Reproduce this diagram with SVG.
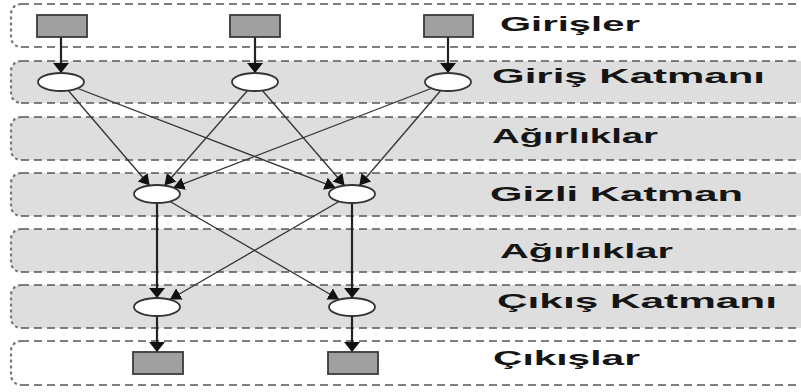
<svg xmlns="http://www.w3.org/2000/svg" width="801" height="392" viewBox="0 0 801 392">
<style>
.bg-grey{fill:#dedede;stroke:none}
.bg-white{fill:#ffffff;stroke:none}
.dash{fill:none;stroke:#555;stroke-width:1.6;stroke-dasharray:8 5}
.dot{fill:none;stroke:#777;stroke-width:2.2;stroke-dasharray:3 3}
.lbl{font-family:"Liberation Sans",Arial,sans-serif;font-weight:bold;font-size:21px;fill:#151515}
.sq{fill:#a0a0a0;stroke:#3a3a3a;stroke-width:1.8}
.nd{fill:#ffffff;stroke:#333;stroke-width:1.8}
.thick{stroke:#222;stroke-width:2.2;fill:none;marker-end:url(#ah-v)}
.thin{stroke:#333;stroke-width:1.3;fill:none;marker-end:url(#ah)}
</style>
<defs>
<marker id="ah-v" markerUnits="userSpaceOnUse" markerWidth="12" markerHeight="18" refX="10" refY="8" orient="auto">
<path d="M0,0 L10,8 L0,16 z" fill="#111"/>
</marker>
<marker id="ah" markerUnits="userSpaceOnUse" markerWidth="13" markerHeight="14" refX="11" refY="6.5" orient="auto">
<path d="M0,0 L11,6.5 L0,13 z" fill="#111"/>
</marker>
</defs>

<g id="bands">
<g id="band-girisler">
<rect class="bg-white" x="11" y="4" width="800" height="43" rx="10"/>
<path class="dash" d="M21,4 H801 M21,47 H801"/>
<path class="dot" d="M21,4 A10,10 0 0 0 11,14 V37 A10,10 0 0 0 21,47"/>
<text class="lbl" x="500" y="31" textLength="140" lengthAdjust="spacingAndGlyphs">Girişler</text>
</g>
<g id="band-giris-katmani">
<rect class="bg-grey" x="11" y="61" width="800" height="42" rx="10"/>
<path class="dash" d="M21,61 H801 M21,103 H801"/>
<path class="dot" d="M21,61 A10,10 0 0 0 11,71 V93 A10,10 0 0 0 21,103"/>
<text class="lbl" x="492" y="83" textLength="273" lengthAdjust="spacingAndGlyphs">Giriş Katmanı</text>
</g>
<g id="band-agirliklar-1">
<rect class="bg-grey" x="11" y="117" width="800" height="43" rx="10"/>
<path class="dash" d="M21,117 H801 M21,160 H801"/>
<path class="dot" d="M21,117 A10,10 0 0 0 11,127 V150 A10,10 0 0 0 21,160"/>
<text class="lbl" x="492" y="143" textLength="166" lengthAdjust="spacingAndGlyphs">Ağırlıklar</text>
</g>
<g id="band-gizli-katman">
<rect class="bg-grey" x="11" y="173" width="800" height="43" rx="10"/>
<path class="dash" d="M21,173 H801 M21,216 H801"/>
<path class="dot" d="M21,173 A10,10 0 0 0 11,183 V206 A10,10 0 0 0 21,216"/>
<text class="lbl" x="490" y="201" textLength="253" lengthAdjust="spacingAndGlyphs">Gizli Katman</text>
</g>
<g id="band-agirliklar-2">
<rect class="bg-grey" x="11" y="229" width="800" height="43" rx="10"/>
<path class="dash" d="M21,229 H801 M21,272 H801"/>
<path class="dot" d="M21,229 A10,10 0 0 0 11,239 V262 A10,10 0 0 0 21,272"/>
<text class="lbl" x="500" y="258" textLength="173" lengthAdjust="spacingAndGlyphs">Ağırlıklar</text>
</g>
<g id="band-cikis-katmani">
<rect class="bg-grey" x="11" y="285" width="800" height="43" rx="10"/>
<path class="dash" d="M21,285 H801 M21,328 H801"/>
<path class="dot" d="M21,285 A10,10 0 0 0 11,295 V318 A10,10 0 0 0 21,328"/>
<text class="lbl" x="497" y="308" textLength="280" lengthAdjust="spacingAndGlyphs">Çıkış Katmanı</text>
</g>
<g id="band-cikislar">
<rect class="bg-white" x="11" y="341" width="800" height="44" rx="10"/>
<path class="dash" d="M21,341 H801 M21,385 H801"/>
<path class="dot" d="M21,341 A10,10 0 0 0 11,351 V375 A10,10 0 0 0 21,385"/>
<text class="lbl" x="493" y="365" textLength="147" lengthAdjust="spacingAndGlyphs">Çıkışlar</text>
</g>
</g>

<g id="connectors">
<line class="thick" x1="61" y1="37" x2="61" y2="73"/>
<line class="thick" x1="255" y1="37" x2="255" y2="73"/>
<line class="thick" x1="448" y1="37" x2="448" y2="73"/>
<line class="thin" x1="61" y1="82" x2="149.7" y2="185.5"/>
<line class="thin" x1="255" y1="82" x2="164.5" y2="185.5"/>
<line class="thin" x1="448" y1="82" x2="173.4" y2="187.7"/>
<line class="thin" x1="61" y1="82" x2="335.6" y2="187.7"/>
<line class="thin" x1="255" y1="82" x2="344.6" y2="185.5"/>
<line class="thin" x1="448" y1="82" x2="359.3" y2="185.5"/>
<line class="thick" x1="157" y1="194" x2="157" y2="298"/>
<line class="thick" x1="352" y1="194" x2="352" y2="298"/>
<line class="thin" x1="157" y1="194" x2="339.1" y2="299.5"/>
<line class="thin" x1="352" y1="194" x2="169.9" y2="299.5"/>
<line class="thick" x1="157" y1="316" x2="157" y2="352"/>
<line class="thick" x1="352" y1="316" x2="352" y2="352"/>
</g>

<g id="in-1"><rect class="sq" x="37" y="15" width="50" height="22"/></g>
<g id="in-2"><rect class="sq" x="230" y="15" width="50" height="22"/></g>
<g id="in-3"><rect class="sq" x="424" y="15" width="49" height="22"/></g>
<g id="il-1"><ellipse class="nd" cx="61" cy="82" rx="23" ry="9"/></g>
<g id="il-2"><ellipse class="nd" cx="255" cy="82" rx="23" ry="9"/></g>
<g id="il-3"><ellipse class="nd" cx="448" cy="82" rx="23" ry="9"/></g>
<g id="h-1"><ellipse class="nd" cx="157" cy="194" rx="23" ry="9"/></g>
<g id="h-2"><ellipse class="nd" cx="352" cy="194" rx="23" ry="9"/></g>
<g id="o-1"><ellipse class="nd" cx="157" cy="307" rx="23" ry="9"/></g>
<g id="o-2"><ellipse class="nd" cx="352" cy="307" rx="23" ry="9"/></g>
<g id="out-1"><rect class="sq" x="133" y="352" width="50" height="22"/></g>
<g id="out-2"><rect class="sq" x="328" y="352" width="50" height="22"/></g>
</svg>
